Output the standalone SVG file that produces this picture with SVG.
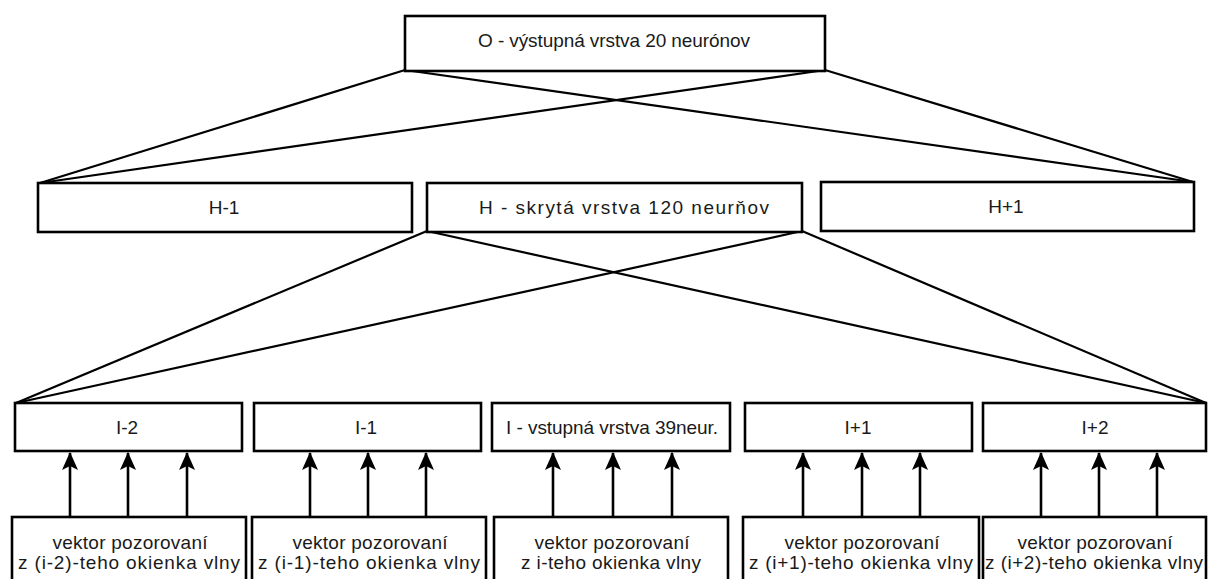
<svg xmlns="http://www.w3.org/2000/svg" width="1208" height="579" viewBox="0 0 1208 579">
<defs>
<style>
.box{fill:#fff;stroke:#000;stroke-width:2.6}
.lbl{font-family:"Liberation Sans",Arial,sans-serif;font-size:19px;fill:#1a1a1a;text-anchor:middle}
.con{stroke:#000;stroke-width:2.2;fill:none}
.arr{stroke:#000;stroke-width:2.6;fill:none;marker-end:url(#ah)}
</style>
<marker id="ah" viewBox="0 0 18 16" refX="17" refY="8" markerWidth="18" markerHeight="16" markerUnits="userSpaceOnUse" orient="auto">
<path d="M0,0 L18,8 L0,16 L4,8 Z" fill="#000"/>
</marker>
</defs>
<rect width="1208" height="579" fill="#fff"/>
<g id="connectors">
<line class="con" x1="405" y1="70" x2="40" y2="183"/>
<line class="con" x1="405" y1="70" x2="1193" y2="182"/>
<line class="con" x1="825" y1="70" x2="40" y2="183"/>
<line class="con" x1="825" y1="70" x2="1193" y2="182"/>
<line class="con" x1="427" y1="231" x2="16" y2="403"/>
<line class="con" x1="427" y1="231" x2="1206" y2="403"/>
<line class="con" x1="802" y1="231" x2="16" y2="403"/>
<line class="con" x1="802" y1="231" x2="1206" y2="403"/>
<line class="arr" x1="70" y1="517" x2="70" y2="453"/>
<line class="arr" x1="128" y1="517" x2="128" y2="453"/>
<line class="arr" x1="187" y1="517" x2="187" y2="453"/>
<line class="arr" x1="310" y1="517" x2="310" y2="453"/>
<line class="arr" x1="368" y1="517" x2="368" y2="453"/>
<line class="arr" x1="426" y1="517" x2="426" y2="453"/>
<line class="arr" x1="553" y1="517" x2="553" y2="453"/>
<line class="arr" x1="613" y1="517" x2="613" y2="453"/>
<line class="arr" x1="672" y1="517" x2="672" y2="453"/>
<line class="arr" x1="803" y1="517" x2="803" y2="453"/>
<line class="arr" x1="862" y1="517" x2="862" y2="453"/>
<line class="arr" x1="920" y1="517" x2="920" y2="453"/>
<line class="arr" x1="1041" y1="517" x2="1041" y2="453"/>
<line class="arr" x1="1099" y1="517" x2="1099" y2="453"/>
<line class="arr" x1="1157" y1="517" x2="1157" y2="453"/>
</g>
<g id="O"><rect class="box" x="405" y="16" width="420" height="55"/><text class="lbl" x="614" y="47" textLength="272">O - výstupná vrstva 20 neurónov</text></g>
<g id="H-1"><rect class="box" x="38" y="183" width="374" height="49"/><text class="lbl" x="224" y="214">H-1</text></g>
<g id="H"><rect class="box" x="427" y="183" width="375" height="49"/><text class="lbl" x="624" y="214" textLength="290">H - skrytá vrstva 120 neurňov</text></g>
<g id="H+1"><rect class="box" x="821" y="182" width="373" height="49"/><text class="lbl" x="1006" y="213">H+1</text></g>
<g id="I-2"><rect class="box" x="15" y="403" width="227" height="48"/><text class="lbl" x="127" y="434">I-2</text></g>
<g id="I-1"><rect class="box" x="254" y="403" width="227" height="48"/><text class="lbl" x="366" y="434">I-1</text></g>
<g id="I"><rect class="box" x="492" y="403" width="238" height="48"/><text class="lbl" x="612" y="434" textLength="212">I - vstupná vrstva 39neur.</text></g>
<g id="I+1"><rect class="box" x="745" y="403" width="227" height="48"/><text class="lbl" x="858" y="434">I+1</text></g>
<g id="I+2"><rect class="box" x="983" y="403" width="223" height="48"/><text class="lbl" x="1095" y="434">I+2</text></g>
<g id="V-2"><rect class="box" x="12" y="517" width="234" height="80"/><text class="lbl" x="130" y="549" textLength="155">vektor pozorovaní</text><text class="lbl" x="129" y="569" textLength="222">z (i-2)-teho okienka vlny</text></g>
<g id="V-1"><rect class="box" x="252" y="517" width="234" height="80"/><text class="lbl" x="370" y="549" textLength="155">vektor pozorovaní</text><text class="lbl" x="369" y="569" textLength="222">z (i-1)-teho okienka vlny</text></g>
<g id="V0"><rect class="box" x="494" y="517" width="234" height="80"/><text class="lbl" x="612" y="549" textLength="155">vektor pozorovaní</text><text class="lbl" x="611" y="569" textLength="180">z i-teho okienka vlny</text></g>
<g id="V+1"><rect class="box" x="743" y="517" width="236" height="80"/><text class="lbl" x="862" y="549" textLength="155">vektor pozorovaní</text><text class="lbl" x="861" y="569" textLength="224">z (i+1)-teho okienka vlny</text></g>
<g id="V+2"><rect class="box" x="983" y="517" width="223" height="80"/><text class="lbl" x="1095" y="549" textLength="155">vektor pozorovaní</text><text class="lbl" x="1094" y="569" textLength="218">z (i+2)-teho okienka vlny</text></g>
</svg>
